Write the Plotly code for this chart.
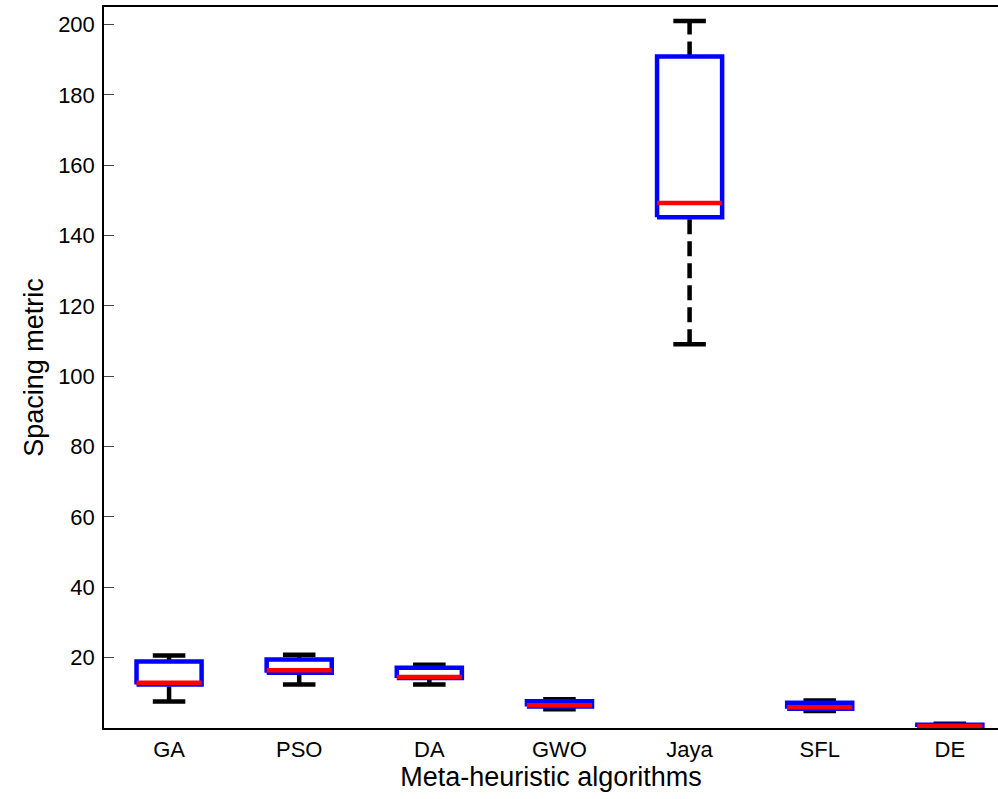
import plotly.graph_objects as go

categories = ["GA", "PSO", "DA", "GWO", "Jaya", "SFL", "DE"]
lower_whisker = [7.5, 12.4, 12.4, 5.3, 109.1, 4.8, 0.1]
q1 = [12.4, 15.7, 14.2, 6.1, 145.2, 5.5, 0.3]
median = [12.9, 16.4, 14.5, 6.5, 149.3, 5.9, 0.6]
q3 = [18.9, 19.5, 17.1, 7.6, 190.9, 7.2, 0.9]
upper_whisker = [20.6, 20.8, 18.0, 8.2, 201.0, 7.8, 1.2]
y_ticks = [20, 40, 60, 80, 100, 120, 140, 160, 180, 200]

BOX_HW = 0.25
CAP_HW = 0.125
positions = list(range(1, len(categories) + 1))

wx, wy, cx, cy, bx, by, mx, my = [], [], [], [], [], [], [], []
for p, lo, a, m, b, hi in zip(positions, lower_whisker, q1, median, q3, upper_whisker):
    wx += [p, p, None, p, p, None]
    wy += [lo, a, None, b, hi, None]
    cx += [p - CAP_HW, p + CAP_HW, None, p - CAP_HW, p + CAP_HW, None]
    cy += [lo, lo, None, hi, hi, None]
    bx += [p - BOX_HW, p + BOX_HW, p + BOX_HW, p - BOX_HW, p - BOX_HW, None]
    by += [a, a, b, b, a, None]
    mx += [p - BOX_HW, p + BOX_HW, None]
    my += [m, m, None]

fig = go.Figure()
fig.add_trace(go.Scatter(x=wx, y=wy, mode="lines",
                         line=dict(color="black", width=4.5, dash="15px,7px"),
                         hoverinfo="skip"))
fig.add_trace(go.Scatter(x=cx, y=cy, mode="lines",
                         line=dict(color="black", width=4.5), hoverinfo="skip"))
fig.add_trace(go.Scatter(x=bx, y=by, mode="lines",
                         line=dict(color="blue", width=4.5), hoverinfo="skip"))
fig.add_trace(go.Scatter(x=mx, y=my, mode="lines",
                         line=dict(color="red", width=4.5), hoverinfo="skip"))

font_family = "Liberation Sans, Arial, sans-serif"
fig.update_layout(
    width=998, height=799,
    margin=dict(l=104, r=0, t=7, b=71),
    paper_bgcolor="white", plot_bgcolor="white",
    showlegend=False,
    font=dict(family=font_family, color="black"),
    xaxis=dict(
        range=[0.5, 7.37], tickmode="array", tickvals=positions, ticktext=categories,
        showgrid=False, zeroline=False, showline=True, linecolor="black", linewidth=1.5,
        mirror=True, ticks="", tickfont=dict(size=22), ticklabelstandoff=1,
        title=dict(text="Meta-heuristic algorithms", font=dict(size=27), standoff=0),
    ),
    yaxis=dict(
        range=[0, 205], tickmode="array", tickvals=y_ticks,
        showgrid=False, zeroline=False, showline=True, linecolor="black", linewidth=1.5,
        ticks="inside", ticklen=10, tickcolor="#444", tickfont=dict(size=22),
        ticklabelstandoff=3,
        title=dict(text="Spacing metric", font=dict(size=27), standoff=7),
    ),
)

fig.write_html("out.html",
               config={"displayModeBar": False},
               post_script="document.body.style.margin='0';document.body.style.overflow='hidden';")
